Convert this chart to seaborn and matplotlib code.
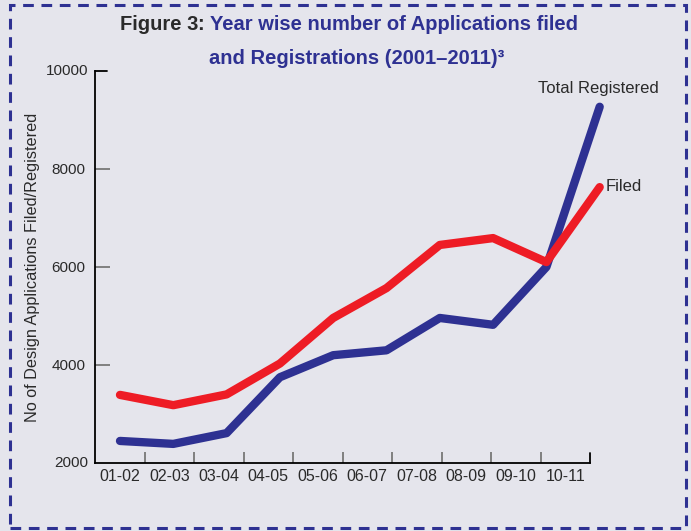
import matplotlib
matplotlib.use("Agg")
import matplotlib.pyplot as plt
import seaborn as sns
import pandas as pd
from matplotlib.patches import Rectangle

years = ["01-02", "02-03", "03-04", "04-05", "05-06", "06-07", "07-08", "08-09", "09-10", "10-11"]
filed = [3390, 3180, 3400, 4030, 4960, 5570, 6450, 6590, 6100, 7630]
registered = [2450, 2390, 2610, 3750, 4200, 4300, 4960, 4820, 6000, 9270]
y_ticks = [2000, 4000, 6000, 8000, 10000]

df = pd.DataFrame({
    "idx": list(range(len(years))) * 2,
    "value": filed + registered,
    "series": ["Filed"] * len(years) + ["Total Registered"] * len(years),
})

sns.set_style("white")
plt.rcParams["font.family"] = ["Liberation Sans", "DejaVu Sans"]

BG = "#e5e5ec"
RED = "#ee1c25"
BLUE = "#2e3192"
TXT = "#2a2a2a"

fig = plt.figure(figsize=(6.91, 5.31), dpi=100)
fig.patch.set_facecolor(BG)

# dashed border
fig.add_artist(Rectangle((10 / 691, 3 / 531), 676 / 691, 523 / 531, transform=fig.transFigure,
                         fill=False, edgecolor=BLUE, lw=2.2, linestyle=(0, (3.5, 2.5))))

L, R = 95, 620
ax = fig.add_axes([L / 691, 1 - 463 / 531, (R - L) / 691, (463 - 71) / 531])
ax.set_facecolor("none")

sns.lineplot(data=df, x="idx", y="value", hue="series", palette={"Filed": RED, "Total Registered": BLUE},
             hue_order=["Total Registered", "Filed"], linewidth=6, legend=False, ax=ax,
             solid_capstyle="round", solid_joinstyle="round", clip_on=False)

# pixel geometry: line points at 120 + 53.3*i, axis from 95, categories 49.5 px wide
px_pt = 53.3
x0 = (L - 120) / px_pt
xr = (R - 120) / px_pt
ax.set_xlim(x0, xr)
ax.set_ylim(2000, 10000)

cat_w = 49.5 / px_pt
bounds = [x0 + cat_w * k for k in range(len(years) + 1)]
centers = [x0 + cat_w * (k + 0.5) for k in range(len(years))]
ax.tick_params(which="both", bottom=True, left=True)
ax.set_xticks(centers)
ax.set_xticklabels(years, fontsize=11.5, color=TXT)
ax.set_xticks(bounds[1:-1], minor=True)
ax.tick_params(axis="x", which="major", length=0, pad=4)
ax.tick_params(axis="x", which="minor", direction="in", length=8, width=1.4, color="#808080")

ax.set_yticks(y_ticks[1:-1])
ax.set_yticklabels([str(v) for v in y_ticks[1:-1]], fontsize=11, color=TXT)
ax.tick_params(axis="y", direction="in", length=11, width=1.4, color="#808080", pad=7)
# end labels (axis end caps)
for v in (y_ticks[0], y_ticks[-1]):
    ax.text(-7 / (R - L), v, str(v), transform=ax.get_yaxis_transform(), fontsize=11, color=TXT,
            ha="right", va="center")

for s in ["top", "right"]:
    ax.spines[s].set_visible(False)
for s in ["left", "bottom"]:
    ax.spines[s].set_color("black")
    ax.spines[s].set_linewidth(1.3)
ax.spines["bottom"].set_bounds(bounds[0], bounds[-1])
# end caps
ax.plot([bounds[-1], bounds[-1]], [2000, 2200], color="black", lw=1.3, clip_on=False)
ax.plot([x0, x0 + 12 / px_pt], [10000, 10000], color="black", lw=1.3, clip_on=False)

ax.set_xlabel("")
ax.set_ylabel("No of Design Applications Filed/Registered", fontsize=11.7, color=TXT)
ax.yaxis.set_label_coords(-55 / (R - L), 0.5)

ax.text(9 - 1.15, 9650, "Total Registered", fontsize=12, color=TXT, ha="left", va="center")
ax.text(9 + 0.12, 7640, "Filed", fontsize=12, color=TXT, ha="left", va="center")

# title
TS = 14.5
fig.canvas.draw()
r = fig.canvas.get_renderer()
parts = [("Figure 3", TXT), (": ", TXT), ("Year wise number of Applications filed", BLUE)]
texts = []
x = 0
for s, c in parts:
    t = fig.text(x, 1 - 25 / 531, s, fontsize=TS, color=c, ha="left", va="center", fontweight="bold")
    texts.append(t)
    x = t.get_window_extent(r).x1 / 691
total_w = sum(t.get_window_extent(r).width for t in texts) / 691
start = 349 / 691 - total_w / 2
x = start
for t in texts:
    t.set_x(x)
    x += t.get_window_extent(r).width / 691
fig.text(357 / 691, 1 - 58 / 531, "and Registrations (2001\u20132011)\u00b3", fontsize=TS, color=BLUE,
         ha="center", va="center", fontweight="bold")

fig.savefig("out.png", dpi=100, facecolor=BG)
